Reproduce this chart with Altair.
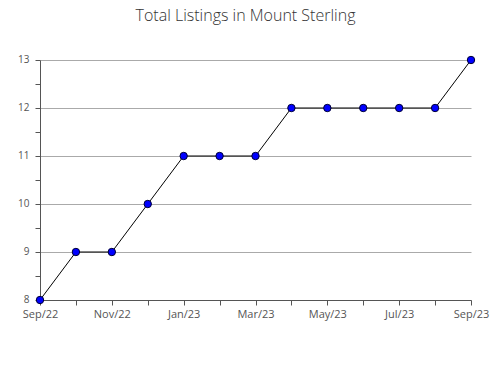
import altair as alt
import pandas as pd

months = ["Sep/22", "Oct/22", "Nov/22", "Dec/22", "Jan/23", "Feb/23", "Mar/23",
          "Apr/23", "May/23", "Jun/23", "Jul/23", "Aug/23", "Sep/23"]
listings = [8, 9, 9, 10, 11, 11, 11, 12, 12, 12, 12, 12, 13]

df = pd.DataFrame({"idx": list(range(len(months))), "month": months, "value": listings})

label_js = "[" + ",".join('"%s"' % m for m in months) + "]"

x = alt.X("idx:Q", scale=alt.Scale(domain=[0, 12], nice=False, zero=False),
          axis=alt.Axis(values=list(range(13)),
                        labelExpr=f"datum.value % 2 == 0 ? {label_js}[datum.value] : ''",
                        title=None, grid=False, domainColor="#555", tickColor="#555",
                        tickSize=5, labelFont="Open Sans", labelFontSize=11, labelColor="#555",
                        labelPadding=3, labelFlush=False, labelOverlap=False))
y = alt.Y("value:Q", scale=alt.Scale(domain=[8, 13], nice=False, zero=False),
          axis=alt.Axis(values=[8, 8.5, 9, 9.5, 10, 10.5, 11, 11.5, 12, 12.5, 13],
                        labelExpr="datum.value % 1 == 0 ? format(datum.value, 'd') : ''",
                        gridOpacity={"condition": {"test": "datum.value % 1 != 0", "value": 0}, "value": 1},
                        gridColor="#aaa", title=None, domainColor="#555", tickColor="#555",
                        tickSize=5, labelFont="Open Sans", labelFontSize=10, labelColor="#555",
                        labelPadding=6, labelOverlap=False, labelBaseline="middle", labelOffset=-1))

line = alt.Chart(df).mark_line(color="black", strokeWidth=1).encode(x=x, y=y)
pts = alt.Chart(df).mark_point(filled=True, color="#0000ff", stroke="#000033", strokeWidth=1,
                               opacity=1, size=55, shape="circle").encode(x=x, y=y)

chart = alt.layer(line, pts).properties(
    width=431, height=240,
    title=alt.TitleParams("Total Listings in Mount Sterling", font="Open Sans", fontSize=16,
                          fontWeight=300, color="#333", anchor="middle", dx=-10, offset=30),
    padding={"left": 40, "top": 60, "right": 19, "bottom": 80},
    autosize=alt.AutoSizeParams(type="none"),
).configure_view(stroke=None)

chart.save("out.html", embed_options={"renderer": "svg", "actions": False})
